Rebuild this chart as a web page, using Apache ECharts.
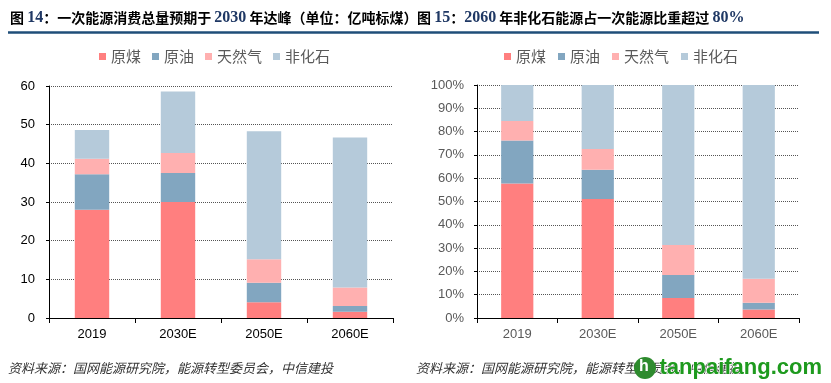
<!DOCTYPE html>
<html>
<head>
<meta charset="utf-8">
<script src="https://cdn.jsdelivr.net/npm/echarts@6/dist/echarts.min.js"></script>
<style>
html,body{margin:0;padding:0;background:#fff;}
#c{width:831px;height:383px;}
</style>
</head>
<body>
<div id="c"></div>
<script>
// ---- data ----
var categories = ['2019', '2030E', '2050E', '2060E'];
var seriesNames = ['原煤', '原油', '天然气', '非化石'];
// Left chart: 亿吨标煤
var coal = [28.0, 30.0, 4.1, 1.6];
var oil = [9.2, 7.5, 5.0, 1.5];
var gas = [4.0, 5.2, 6.1, 4.8];
var nonFossil = [7.4, 15.9, 33.1, 38.8];
// Right chart: share (%)
var coalShare = [57.7, 51.1, 8.6, 3.6];
var oilShare = [18.5, 12.5, 9.9, 2.9];
var gasShare = [8.3, 8.9, 12.8, 10.3];
var nonFossilShare = [15.5, 27.5, 68.7, 83.2];
var leftTicks = [0, 10, 20, 30, 40, 50, 60];
var rightTicks = [0, 10, 20, 30, 40, 50, 60, 70, 80, 90, 100];

var colors = ['#FF7F7F', '#82A6C0', '#FFB0B0', '#B5CADA'];
var leftData = [coal, oil, gas, nonFossil];
var rightData = [coalShare, oilShare, gasShare, nonFossilShare];

var chart = echarts.init(document.getElementById('c'));

var series = [];
seriesNames.forEach(function (n, i) {
  series.push({
    name: n, type: 'bar', stack: 'L', xAxisIndex: 0, yAxisIndex: 0,
    barWidth: '40%', itemStyle: { color: colors[i] }, data: leftData[i]
  });
});
seriesNames.forEach(function (n, i) {
  series.push({
    name: n, type: 'bar', stack: 'R', xAxisIndex: 1, yAxisIndex: 1,
    barWidth: '40%', itemStyle: { color: colors[i] }, data: rightData[i]
  });
});

var cjk = '"Noto Sans CJK SC", sans-serif';
var titleRich = {
  c: { fontFamily: cjk, fontWeight: 'bold', fontSize: 14, color: '#000' },
  n: { fontFamily: '"Liberation Serif", serif', fontWeight: 'bold', fontSize: 16, color: '#1F3864' }
};

var option = {
  animation: false,
  color: colors,
  title: [
    { left: 5, top: 5, text: '{c|图 }{n|14}{c|：一次能源消费总量预期于 }{n|2030}{c| 年达峰（单位：亿吨标煤）}',
      textStyle: { rich: titleRich } },
    { left: 412, top: 5, text: '{c|图 }{n|15}{c|：}{n|2060}{c| 年非化石能源占一次能源比重超过 }{n|80%}',
      textStyle: { rich: titleRich } }
  ],
  legend: [
    { left: 94, top: 44, itemWidth: 7, itemHeight: 7, itemGap: 11, icon: 'rect',
      data: seriesNames, textStyle: { fontSize: 15, color: '#595959', fontFamily: cjk } },
    { left: 499, top: 44, itemWidth: 7, itemHeight: 7, itemGap: 12, icon: 'rect',
      data: seriesNames, textStyle: { fontSize: 15, color: '#595959', fontFamily: cjk } }
  ],
  grid: [
    { left: 49, right: 438, top: 86, bottom: 65 },
    { left: 477, right: 32, top: 85, bottom: 65 }
  ],
  xAxis: [
    { type: 'category', gridIndex: 0, data: categories,
      axisLine: { lineStyle: { color: '#000', width: 1 } },
      axisTick: { show: true, length: 5, lineStyle: { color: '#000' } },
      axisLabel: { fontSize: 13, color: '#000', margin: 10, fontFamily: 'Arial, "Liberation Sans"' } },
    { type: 'category', gridIndex: 1, data: categories,
      axisLine: { lineStyle: { color: '#000', width: 1 } },
      axisTick: { show: true, length: 5, lineStyle: { color: '#000' } },
      axisLabel: { fontSize: 13, color: '#595959', margin: 10, fontFamily: 'Arial, "Liberation Sans"' } }
  ],
  yAxis: [
    { type: 'value', gridIndex: 0, min: leftTicks[0], max: leftTicks[leftTicks.length - 1], interval: 10,
      axisLine: { show: true, lineStyle: { color: '#000' } },
      axisTick: { show: true, length: 3, lineStyle: { color: '#000' } },
      splitLine: { lineStyle: { type: 'dotted', color: '#555' } },
      axisLabel: { fontSize: 13, color: '#000', margin: 14, fontFamily: 'Arial, "Liberation Sans"' } },
    { type: 'value', gridIndex: 1, min: rightTicks[0], max: rightTicks[rightTicks.length - 1], interval: 10,
      axisLine: { show: true, lineStyle: { color: '#000' } },
      axisTick: { show: true, length: 3, lineStyle: { color: '#000' } },
      splitLine: { lineStyle: { type: 'dotted', color: '#555' } },
      axisLabel: { fontSize: 13, color: '#595959', margin: 13, formatter: '{value}%', fontFamily: 'Arial, "Liberation Sans"' } }
  ],
  graphic: [
    { type: 'line', shape: { x1: 8, y1: 32.5, x2: 819, y2: 32.5 }, style: { stroke: '#1F4E79', lineWidth: 2.5 } },
    { type: 'text', left: 8, top: 362, style: { text: '资料来源：国网能源研究院，能源转型委员会，中信建投', font: 'italic 13px "Noto Sans CJK SC", sans-serif', fill: '#333' } },
    { type: 'text', left: 416, top: 362, style: { text: '资料来源：国网能源研究院，能源转型委员会，中信建投', font: 'italic 13px "Noto Sans CJK SC", sans-serif', fill: '#333' } },
    { type: 'circle', shape: { cx: 645, cy: 368, r: 11 }, style: { fill: '#2E8B2E' }, z: 10 },
    { type: 'text', x: 639, y: 359, style: { text: 'h', font: 'bold 16px Arial', fill: '#fff' }, z: 11 },
    { type: 'text', left: 659, top: 356, style: { text: 'tanpaifang.com', font: 'bold 22px "Liberation Sans", Arial', fill: '#1E9A1E', stroke: '#fff', lineWidth: 1 }, z: 10 }
  ],
  series: series
};
chart.setOption(option);
</script>
</body>
</html>
